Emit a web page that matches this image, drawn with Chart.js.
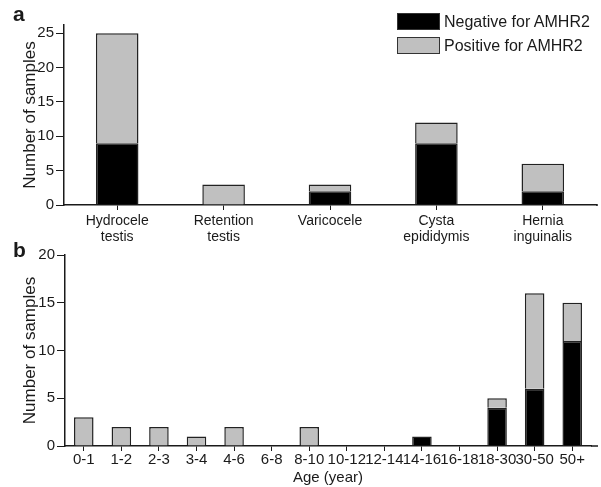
<!DOCTYPE html>
<html>
<head>
<meta charset="utf-8">
<script src="https://cdn.jsdelivr.net/npm/chart.js@4"></script>
<style>
  body { margin: 0; background: #fff; font-family: "Liberation Sans", Arial, sans-serif; color: #1a1a1a; }
  #wrap { position: relative; width: 601px; height: 487px; overflow: hidden; }
  canvas { position: absolute; left: 0; }
  .panel { position: absolute; left: 13px; font-weight: bold; font-size: 21px; line-height: 21px; }
  .legend { position: absolute; left: 397px; top: 13px; font-size: 16px; }
  .row { display: flex; align-items: center; height: 17px; margin-bottom: 7px; }
  .box { width: 41px; height: 15px; border: 1px solid #333; margin-right: 4px; }
</style>
</head>
<body>
<div id="wrap">
  <canvas id="chartA" width="601" height="250" style="top:0"></canvas>
  <canvas id="chartB" width="601" height="247" style="top:240px"></canvas>
  <div class="panel" style="top:3px">a</div>
  <div class="panel" style="top:239px">b</div>
  <div class="legend">
    <div class="row"><div class="box" style="background:#000"></div>Negative for AMHR2</div>
    <div class="row"><div class="box" style="background:#c0c0c0"></div>Positive for AMHR2</div>
  </div>
</div>
<script>
// panel a: diagnosis
const diagnoses = [['Hydrocele', 'testis'], ['Retention', 'testis'], 'Varicocele', ['Cysta', 'epididymis'], ['Hernia', 'inguinalis']];
const diagNegative = [9, 0, 2, 9, 2];
const diagPositive = [16, 3, 1, 3, 4];
const diagTicks = [0, 5, 10, 15, 20, 25];

// panel b: age
const ageGroups = ['0-1', '1-2', '2-3', '3-4', '4-6', '6-8', '8-10', '10-12', '12-14', '14-16', '16-18', '18-30', '30-50', '50+'];
const ageNegative = [0, 0, 0, 0, 0, 0, 0, 0, 0, 1, 0, 4, 6, 11];
const agePositive = [3, 2, 2, 1, 2, 0, 2, 0, 0, 0, 0, 1, 10, 4];
const ageTicks = [0, 5, 10, 15, 20];

const ink = '#1a1a1a';
const fontFamily = '"Liberation Sans", Arial, sans-serif';

// the x axis line runs a bit past the last category in the figure
const axisTail = {
    id: 'axisTail',
    afterDraw(chart, args, o) {
        const { ctx, chartArea } = chart;
        ctx.save();
        ctx.strokeStyle = ink;
        ctx.lineWidth = 1.5;
        ctx.beginPath();
        ctx.moveTo(chartArea.right, chartArea.bottom);
        ctx.lineTo(o.to, chartArea.bottom);
        ctx.stroke();
        ctx.restore();
    }
};

function makeChart(id, labels, neg, pos, tickValues, opts) {
    return new Chart(document.getElementById(id), {
        type: 'bar',
        plugins: [axisTail],
        data: {
            labels: labels,
            datasets: [
                { label: 'Negative for AMHR2', data: neg, backgroundColor: '#000', borderColor: '#222', borderWidth: 1.5 },
                { label: 'Positive for AMHR2', data: pos, backgroundColor: '#c0c0c0', borderColor: '#222', borderWidth: 1.5 }
            ]
        },
        options: {
            responsive: false,
            animation: false,
            barPercentage: opts.barPct,
            categoryPercentage: 1,
            layout: { padding: { top: opts.padTop, right: opts.padRight, bottom: 0, left: 0 } },
            plugins: { legend: { display: false }, tooltip: { enabled: false }, axisTail: { to: 598 } },
            scales: {
                x: {
                    stacked: true,
                    grid: { display: true, drawOnChartArea: false, offset: false, tickLength: 5, color: ink },
                    border: { display: true, color: ink, width: 1.5 },
                    ticks: { autoSkip: false, maxRotation: 0, padding: opts.xPad, color: ink,
                             font: { family: fontFamily, size: opts.xFont, lineHeight: 1.15 } },
                    title: { display: !!opts.xTitle, text: opts.xTitle, color: ink,
                             font: { family: fontFamily, size: 15 }, padding: { top: 0, bottom: 0 } },
                    afterFit: s => { s.height = opts.xHeight; }
                },
                y: {
                    stacked: true,
                    min: 0,
                    max: opts.yMax,
                    grid: { display: true, drawOnChartArea: false, tickLength: 8, color: ink },
                    border: { display: true, color: ink, width: 1.5 },
                    ticks: { padding: 2, color: ink, font: { family: fontFamily, size: 15 } },
                    afterBuildTicks: s => { s.ticks = tickValues.map(v => ({ value: v })); },
                    title: { display: true, text: 'Number of samples', color: ink,
                             font: { family: fontFamily, size: 17 }, padding: { top: 20, bottom: 0 } },
                    afterFit: s => { s.width = opts.yWidth; }
                }
            }
        }
    });
}

makeChart('chartA', diagnoses, diagNegative, diagPositive, diagTicks,
    { barPct: 0.4, padTop: 25, padRight: 5, xPad: 3, xFont: 14, xHeight: 45, yMax: 26.2, yWidth: 64 });

makeChart('chartB', ageGroups, ageNegative, agePositive, ageTicks,
    { barPct: 0.52, padTop: 15, padRight: 10, xPad: 0, xFont: 15, xHeight: 41, yMax: 20, yWidth: 65, xTitle: 'Age (year)' });
</script>
</body>
</html>
